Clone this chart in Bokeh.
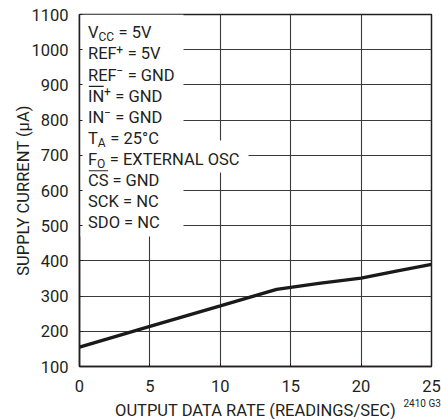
from bokeh.plotting import figure
from bokeh.models import Range1d, FixedTicker, Label
from bokeh.core.properties import value
from bokeh.embed import file_html
from bokeh.resources import INLINE

# ---- data ----
rate = [0, 5, 10, 14, 17, 20, 22.5, 25]
current = [155, 214, 272, 319, 336, 351, 371, 390]
x_ticks = [0, 5, 10, 15, 20, 25]
y_ticks = [100, 200, 300, 400, 500, 600, 700, 800, 900, 1000, 1100]
x_title = "OUTPUT DATA RATE (READINGS/SEC)"
y_title = "SUPPLY CURRENT (µA)"
fig_id = "2410 G3"
NB = "\u00a0"
# condition rows: pieces of (text, style) ; n=normal, sub, sup, over=normal with overline
conditions = [
    [("V", "n"), ("CC", "sub"), (NB + "= 5V", "n")],
    [("REF", "n"), ("+", "sup"), (NB + "= 5V", "n")],
    [("REF", "n"), ("\u2212", "sup"), (NB + "= GND", "n")],
    [("IN", "over"), ("+", "sup"), (NB + "= GND", "n")],
    [("IN", "n"), ("\u2212", "sup"), (NB + "= GND", "n")],
    [("T", "n"), ("A", "sub"), (NB + "= 25°C", "n")],
    [("F", "n"), ("O", "sub"), (NB + "= EXTERNAL OSC", "n")],
    [("CS", "over"), (NB + "= GND", "n")],
    [("SCK = NC", "n")],
    [("SDO = NC", "n")],
]

FONT = "Roboto"
INK = "#231f20"
FS = 16.5      # main font px
SS = 12.0      # sub/sup font px
BASE_FIX = 0.36  # em shift between requested and drawn alphabetic baseline

W, H = 441, 419
ML, MR, MT, MB = 79, 10, 14, 53
FW = W - ML - MR
FH = H - MT - MB

p = figure(width=W, height=H, output_backend="svg", toolbar_location=None,
           x_range=Range1d(0, 25), y_range=Range1d(100, 1100),
           min_border_left=ML, min_border_right=MR, min_border_top=MT, min_border_bottom=MB)
p.background_fill_color = "white"
p.border_fill_color = "white"
p.outline_line_color = INK
p.outline_line_width = 1.5

xpx = FW / 25.0
ypx = FH / 1000.0

# grid
p.xgrid.ticker = FixedTicker(ticks=x_ticks)
p.ygrid.ticker = FixedTicker(ticks=y_ticks)
for g in (p.xgrid, p.ygrid):
    g.grid_line_color = "#3a3a3a"
    g.grid_line_width = 1.1

# white panel behind the conditions text
box_w = (183 - ML) / xpx
box_b = 1100 - (236 - MT) / ypx
p.quad(left=[0], right=[box_w], bottom=[box_b], top=[1100], fill_color="white", line_color=None)
osc_r = (248 - ML) / xpx
p.quad(left=[0], right=[osc_r], bottom=[1100 - (172 - MT) / ypx], top=[1100 - (140 - MT) / ypx],
       fill_color="white", line_color=None)

# data line
p.line(rate, current, line_color="#1a1a1a", line_width=3.4)

# conditions text (anchored at top-left corner of the frame, offsets in px)
ROBOTO = {"V": 636, "C": 638, " ": 248, NB: 248, "=": 550, "5": 562, "R": 616, "E": 554, "F": 545,
          "+": 555, "\u2212": 555, "G": 667, "N": 697, "D": 640, "I": 273, "T": 597,
          "A": 652, "2": 562, "°": 375, "O": 674, "X": 618, "L": 538, "S": 595, "K": 616}

def tw(s, size):
    return sum(ROBOTO.get(c, 600) for c in s) / 1000.0 * size

x0_px = 8.5
base0 = 38.3 - MT     # wanted baseline of first row, px below frame top
step = 21.1
cap = 0.711 * FS
for i, row in enumerate(conditions):
    base = base0 + i * step
    xo = x0_px
    for txt, st in row:
        if st in ("n", "over"):
            size, dy = FS, 0.0
        elif st == "sub":
            size, dy = SS, 3.0
        else:
            size, dy = SS, -6.5
        p.text(x=[0], y=[1100], text=[txt], x_offset=[xo], y_offset=[base + dy - BASE_FIX * size],
               text_font=value(FONT), text_font_size=f"{size}px", text_color=INK,
               text_align="left", text_baseline="alphabetic")
        w = tw(txt, size)
        if st == "over":
            yl = 1100 - (base - cap - 4.0) / ypx
            p.segment(x0=[(xo + 0.8) / xpx], y0=[yl], x1=[(xo + w - 0.3) / xpx], y1=[yl],
                      line_color=INK, line_width=1.2)
        xo += w + (0.6 if st in ("sub", "sup") else 0.0)

# axes
for ax in (p.xaxis[0], p.yaxis[0]):
    ax.axis_line_color = INK
    ax.axis_line_width = 1.5
    ax.major_tick_in = 3
    ax.major_tick_out = 0
    ax.major_tick_line_color = INK
    ax.minor_tick_line_color = None
    ax.major_label_text_font = FONT
    ax.major_label_text_font_size = f"{FS}px"
    ax.major_label_text_color = INK
    ax.axis_label_text_font = FONT
    ax.axis_label_text_font_size = f"{FS}px"
    ax.axis_label_text_font_style = "normal"
    ax.axis_label_text_color = INK

p.xaxis.ticker = FixedTicker(ticks=x_ticks)
p.yaxis.ticker = FixedTicker(ticks=y_ticks)
p.yaxis.axis_label = y_title
p.xaxis.major_label_standoff = 13
p.yaxis.major_label_standoff = 11
p.yaxis.axis_label_standoff = -5

# x-axis title and figure id as labels in the side panels (canvas coordinates)
p.add_layout(Label(x=ML + FW / 2, y=415.5 - BASE_FIX * FS, x_units="canvas", y_units="canvas",
                   text=x_title, text_font=FONT, text_font_size=f"{FS}px", text_color=INK,
                   text_align="center", text_baseline="alphabetic"), "below")
p.add_layout(Label(x=403, y=407 - BASE_FIX * 10, x_units="canvas", y_units="canvas", text=fig_id,
                   text_font=FONT, text_font_size="10px", text_color=INK,
                   text_align="left", text_baseline="alphabetic"), "above")

open("out.html", "w").write(file_html(p, INLINE))
